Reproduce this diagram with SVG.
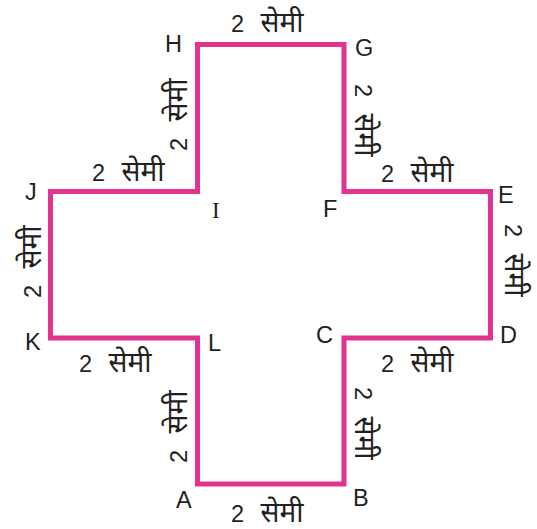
<svg xmlns="http://www.w3.org/2000/svg" width="537" height="529" viewBox="0 0 537 529">
<style>
.edge{fill:none;stroke:#E2348F;stroke-width:5;stroke-linejoin:miter;stroke-linecap:square}
.v{font-family:"Liberation Sans",Arial,sans-serif;font-size:23.5px;fill:#231F20}
.vs{font-family:"Liberation Serif","Times New Roman",serif;font-size:23px;fill:#231F20}
.m{font-family:"Liberation Sans","Noto Sans",sans-serif;font-size:23.5px;fill:#231F20}
.d{font-size:28px}
</style>
<rect width="537" height="529" fill="#fff"/>
<g id="connectors">
<path class="edge" d="M197.5,44.5 H344 V191.5 H490.5 V338 H344 V484 H197.5 V338 H50.5 V191.5 H197.5 Z"/>
</g>
<g id="H"><text class="v" x="165" y="52">H</text></g>
<g id="G"><text class="v" x="355" y="56">G</text></g>
<g id="J"><text class="v" x="25" y="200">J</text></g>
<g id="I"><text class="vs" x="212" y="218">I</text></g>
<g id="F"><text class="v" x="323" y="217">F</text></g>
<g id="E"><text class="v" x="498" y="203">E</text></g>
<g id="K"><text class="v" x="25" y="350">K</text></g>
<g id="L"><text class="v" x="208" y="351">L</text></g>
<g id="C"><text class="v" x="316" y="343">C</text></g>
<g id="D"><text class="v" x="500" y="343">D</text></g>
<g id="A"><text class="v" x="176" y="508">A</text></g>
<g id="B"><text class="v" x="353" y="506">B</text></g>
<g id="labels">
<text class="m" x="231" y="32">2 <tspan class="d" dx="10">सेमी</tspan></text>
<text class="m" x="92" y="181">2 <tspan class="d" dx="10">सेमी</tspan></text>
<text class="m" x="381" y="182">2 <tspan class="d" dx="10">सेमी</tspan></text>
<text class="m" x="79" y="372">2 <tspan class="d" dx="10">सेमी</tspan></text>
<text class="m" x="381" y="372">2 <tspan class="d" dx="10">सेमी</tspan></text>
<text class="m" x="231" y="522">2 <tspan class="d" dx="10">सेमी</tspan></text>
<text class="m" transform="translate(187,151) rotate(-90)">2 <tspan class="d" dx="10">सेमी</tspan></text>
<text class="m" transform="translate(41,298) rotate(-90)">2 <tspan class="d" dx="10">सेमी</tspan></text>
<text class="m" transform="translate(187,463) rotate(-90)">2 <tspan class="d" dx="10">सेमी</tspan></text>
<text class="m" transform="translate(355,84) rotate(90)">2 <tspan class="d" dx="10">सेमी</tspan></text>
<text class="m" transform="translate(505,224) rotate(90)">2 <tspan class="d" dx="10">सेमी</tspan></text>
<text class="m" transform="translate(355,387) rotate(90)">2 <tspan class="d" dx="10">सेमी</tspan></text>
</g>
</svg>
